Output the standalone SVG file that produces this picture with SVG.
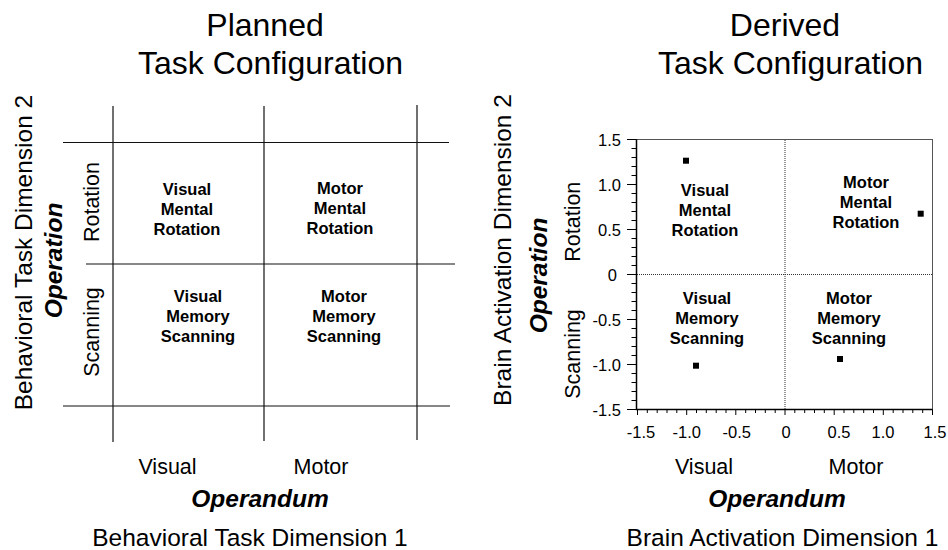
<svg xmlns="http://www.w3.org/2000/svg" width="948" height="550" viewBox="0 0 948 550">
<style>
text{font-family:"Liberation Sans",Arial,sans-serif;fill:#000}
.title{font-size:32px;text-anchor:middle}
.cell{font-size:16.5px;font-weight:bold;text-anchor:middle}
.cat{font-size:21.5px;text-anchor:middle}
.dim{font-size:24.5px;text-anchor:middle}
.op{font-size:24.5px;font-weight:bold;font-style:italic;text-anchor:middle}
.tick{font-size:16.5px}
.grid{stroke:#111;stroke-width:1.2;fill:none}
.axis{stroke:#000;stroke-width:1.5;fill:none}
.frame{stroke:#555;stroke-width:1;fill:none}
.dot{stroke:#333;stroke-width:1;stroke-dasharray:1 1;fill:none}
.tk{stroke:#000;stroke-width:1;fill:none}
</style>
<rect width="948" height="550" fill="#fff"/>

<!-- Left panel -->
<g id="left-title">
<text class="title" x="265" y="36">Planned</text>
<text class="title" x="270.5" y="74">Task Configuration</text>
</g>
<g id="left-grid" class="grid">
<line x1="113" y1="106" x2="113" y2="442"/>
<line x1="264" y1="106" x2="264" y2="441"/>
<line x1="417" y1="105" x2="417" y2="440"/>
<line x1="63" y1="142.5" x2="449" y2="142.5"/>
<line x1="86" y1="264" x2="455" y2="264"/>
<line x1="63" y1="406" x2="450" y2="406"/>
</g>
<g id="planned-vmr">
<text class="cell" x="187" y="195">Visual</text>
<text class="cell" x="187" y="215">Mental</text>
<text class="cell" x="187" y="235">Rotation</text>
</g>
<g id="planned-mmr">
<text class="cell" x="340" y="194">Motor</text>
<text class="cell" x="340" y="214">Mental</text>
<text class="cell" x="340" y="234">Rotation</text>
</g>
<g id="planned-vms">
<text class="cell" x="198" y="302">Visual</text>
<text class="cell" x="198" y="322">Memory</text>
<text class="cell" x="198" y="342">Scanning</text>
</g>
<g id="planned-mms">
<text class="cell" x="344" y="302">Motor</text>
<text class="cell" x="344" y="322">Memory</text>
<text class="cell" x="344" y="342">Scanning</text>
</g>
<g id="left-yaxis-labels">
<text class="dim" transform="translate(32 252.5) rotate(-90)">Behavioral Task Dimension 2</text>
<text class="op" transform="translate(62 260.5) rotate(-90)">Operation</text>
<text class="cat" transform="translate(99 202) rotate(-90)">Rotation</text>
<text class="cat" transform="translate(99 332) rotate(-90)">Scanning</text>
</g>
<g id="left-xaxis-labels">
<text class="cat" x="167.5" y="474">Visual</text>
<text class="cat" x="321" y="474">Motor</text>
<text class="op" x="260" y="507">Operandum</text>
<text class="dim" x="250" y="546">Behavioral Task Dimension 1</text>
</g>

<!-- Right panel -->
<g id="right-title">
<text class="title" x="785" y="36">Derived</text>
<text class="title" x="790.5" y="74">Task Configuration</text>
</g>
<g id="right-plot">
<rect class="frame" x="636.5" y="139.5" width="296" height="270"/>
<line class="dot" x1="785" y1="140" x2="785" y2="409"/>
<line class="dot" x1="637" y1="274.5" x2="932" y2="274.5"/>
<path class="axis" d="M636.5 139.5V409.5H932.5"/>
<path class="tk" d="M627 139.5H636.5M631.5 148.5H636.5M631.5 157.5H636.5M631.5 166.5H636.5M631.5 175.5H636.5M627 184.5H636.5M631.5 193.5H636.5M631.5 202.5H636.5M631.5 211.5H636.5M631.5 220.5H636.5M627 229.5H636.5M631.5 238.5H636.5M631.5 247.5H636.5M631.5 256.5H636.5M631.5 265.5H636.5M627 274.5H636.5M631.5 283.5H636.5M631.5 292.5H636.5M631.5 301.5H636.5M631.5 310.5H636.5M627 319.5H636.5M631.5 328.5H636.5M631.5 337.5H636.5M631.5 346.5H636.5M631.5 355.5H636.5M627 364.5H636.5M631.5 373.5H636.5M631.5 382.5H636.5M631.5 391.5H636.5M631.5 400.5H636.5M627 409.5H636.5"/>
<path class="tk" d="M637.5 409.5V415M647.3 409.5V413M657.2 409.5V413M667 409.5V413M676.8 409.5V413M686.7 409.5V415M696.5 409.5V413M706.3 409.5V413M716.2 409.5V413M726 409.5V413M735.8 409.5V415M745.7 409.5V413M755.5 409.5V413M765.3 409.5V413M775.2 409.5V413M785 409.5V415M794.8 409.5V413M804.7 409.5V413M814.5 409.5V413M824.3 409.5V413M834.2 409.5V415M844 409.5V413M853.8 409.5V413M863.7 409.5V413M873.5 409.5V413M883.3 409.5V415M893.2 409.5V413M903 409.5V413M912.8 409.5V413M922.7 409.5V413M932.5 409.5V415"/>
<g class="tick" text-anchor="end">
<text x="621" y="146">1.5</text>
<text x="621" y="190.5">1.0</text>
<text x="621" y="235.5">0.5</text>
<text x="617" y="280.5">0</text>
<text x="621" y="325.5">-0.5</text>
<text x="621" y="370.5">-1.0</text>
<text x="621" y="415.5">-1.5</text>
</g>
<g class="tick" text-anchor="middle">
<text x="641" y="438">-1.5</text>
<text x="686.7" y="438">-1.0</text>
<text x="736.7" y="438">-0.5</text>
<text x="786" y="438">0</text>
<text x="839" y="438">0.5</text>
<text x="883" y="438">1.0</text>
<text x="935" y="438">1.5</text>
</g>
</g>
<g id="derived-vmr">
<rect x="683" y="157.7" width="6" height="6"/>
<text class="cell" x="705" y="196">Visual</text>
<text class="cell" x="705" y="216">Mental</text>
<text class="cell" x="705" y="236">Rotation</text>
</g>
<g id="derived-mmr">
<rect x="917.7" y="210.7" width="6" height="6"/>
<text class="cell" x="866" y="188">Motor</text>
<text class="cell" x="866" y="208">Mental</text>
<text class="cell" x="866" y="228">Rotation</text>
</g>
<g id="derived-vms">
<rect x="693" y="362.7" width="6" height="6"/>
<text class="cell" x="707" y="304">Visual</text>
<text class="cell" x="707" y="324">Memory</text>
<text class="cell" x="707" y="344">Scanning</text>
</g>
<g id="derived-mms">
<rect x="837" y="356" width="6" height="6"/>
<text class="cell" x="849" y="304">Motor</text>
<text class="cell" x="849" y="324">Memory</text>
<text class="cell" x="849" y="344">Scanning</text>
</g>
<g id="right-yaxis-labels">
<text class="dim" transform="translate(511 250) rotate(-90)">Brain Activation Dimension 2</text>
<text class="op" transform="translate(547 275.5) rotate(-90)">Operation</text>
<text class="cat" transform="translate(580 221.7) rotate(-90)">Rotation</text>
<text class="cat" transform="translate(580 354) rotate(-90)">Scanning</text>
</g>
<g id="right-xaxis-labels">
<text class="cat" x="704" y="474">Visual</text>
<text class="cat" x="856" y="474">Motor</text>
<text class="op" x="777" y="507">Operandum</text>
<text class="dim" x="782.5" y="546">Brain Activation Dimension 1</text>
</g>
</svg>
